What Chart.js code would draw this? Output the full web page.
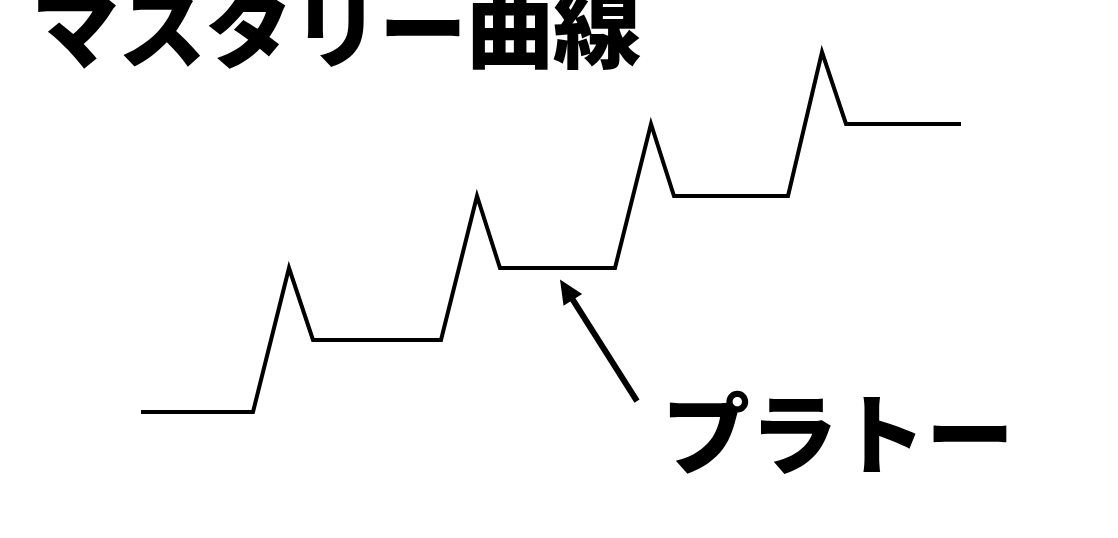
<!DOCTYPE html>
<html>
<head>
<meta charset="utf-8">
<script src="https://cdn.jsdelivr.net/npm/chart.js@4"></script>
<style>
  html, body { margin: 0; padding: 0; background: #fff; }
  #wrap { position: relative; width: 1118px; height: 538px; overflow: hidden; }
  #chart { position: absolute; left: 0; top: 0; }
  .label {
    position: absolute; margin: 0; white-space: nowrap; color: #000;
    font-family: "Noto Sans CJK JP", "Noto Sans", sans-serif; font-weight: 900; line-height: 1;
  }
  #title { left: 31px; top: -21px; font-size: 88px; letter-spacing: -1px; }
  #plateau { left: 662px; top: 385px; font-size: 88px; }
</style>
</head>
<body>
<div id="wrap">
  <canvas id="chart" width="1118" height="538"></canvas>
  <h1 class="label" id="title">マスタリー曲線</h1>
  <div class="label" id="plateau">プラトー</div>
</div>
<script>
// practice time vs skill level: each step is a rise, an overshoot peak, then a plateau
var practice = [0, 112, 148, 172, 300, 336, 359, 474, 510, 533, 647, 681, 705, 820]
var skill    = [0, 0, 2, 1, 1, 3, 2, 2, 4, 3, 3, 5, 4, 4]
// arrow pointing at the second plateau: [from, to] in the same units
var arrowFrom = {x: 496, y: 0.15}
var arrowTo   = {x: 419, y: 1.84}

var points = practice.map((x, i) => ({x: x, y: skill[i]}))

var arrowPlugin = {
  id: 'arrow',
  afterDatasetsDraw(chart) {
    var ctx = chart.ctx
    var xs = chart.scales.x, ys = chart.scales.y
    var x1 = xs.getPixelForValue(arrowFrom.x), y1 = ys.getPixelForValue(arrowFrom.y)
    var x2 = xs.getPixelForValue(arrowTo.x), y2 = ys.getPixelForValue(arrowTo.y)
    var ang = Math.atan2(y2 - y1, x2 - x1)
    var head = 24, half = 11
    var bx = x2 - Math.cos(ang) * head, by = y2 - Math.sin(ang) * head
    ctx.save()
    ctx.strokeStyle = '#000'
    ctx.fillStyle = '#000'
    ctx.lineWidth = 6
    ctx.beginPath()
    ctx.moveTo(x1, y1)
    ctx.lineTo(bx + Math.cos(ang) * 2, by + Math.sin(ang) * 2)
    ctx.stroke()
    ctx.beginPath()
    ctx.moveTo(x2, y2)
    ctx.lineTo(bx - Math.sin(ang) * half, by + Math.cos(ang) * half)
    ctx.lineTo(bx + Math.sin(ang) * half, by - Math.cos(ang) * half)
    ctx.closePath()
    ctx.fill()
    ctx.restore()
  }
}

var config = {
  type: 'line',
  data: {
    datasets: [{
      data: points,
      borderColor: '#000',
      borderWidth: 4,
      pointRadius: 0,
      tension: 0,
      clip: false
    }]
  },
  options: {
    responsive: false,
    animation: false,
    layout: { padding: { left: 141, right: 157, top: 52, bottom: 126 } },
    scales: {
      x: { type: 'linear', min: 0, max: 820, display: false },
      y: { type: 'linear', min: 0, max: 5, display: false }
    },
    plugins: {
      legend: { display: false },
      tooltip: { enabled: false }
    }
  },
  plugins: [arrowPlugin]
}

var myChart = new Chart(document.getElementById('chart'), config)
</script>
</body>
</html>
